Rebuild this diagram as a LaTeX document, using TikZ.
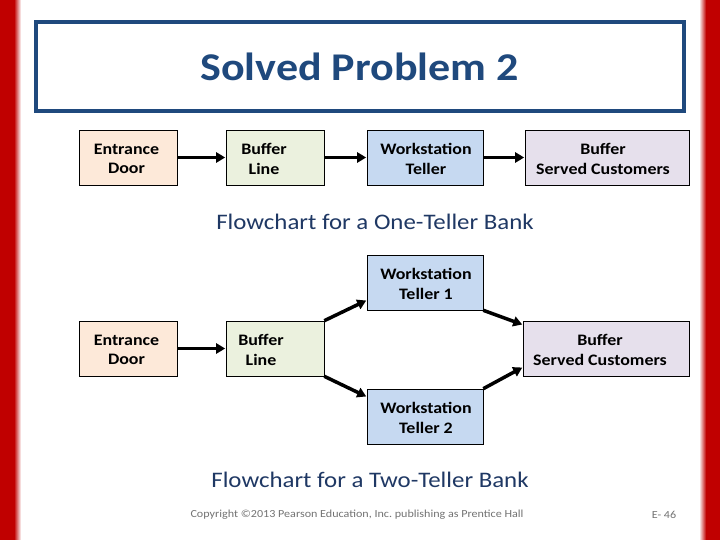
\documentclass[tikz,border=0pt]{standalone}
\usepackage{fontspec}
\setmainfont{Carlito}[FakeStretch=1.12]
\usetikzlibrary{arrows.meta}
\definecolor{slred}{HTML}{C00000}
\definecolor{slblue}{HTML}{1F497D}
\definecolor{capblue}{HTML}{1F3864}
\definecolor{cpeach}{HTML}{FDE9D9}
\definecolor{cgreen}{HTML}{EBF1DE}
\definecolor{cblue}{HTML}{C6D9F1}
\definecolor{clav}{HTML}{E6E0EC}
\tikzset{
  box/.style={draw=black, line width=0.6pt, rectangle, inner sep=0pt, minimum height=55pt},
  lbl/.style={font=\bfseries\fontsize{16}{19.5}\selectfont, align=center, inner sep=0pt},
  arr/.style={line width=3.5pt, -{Triangle[length=9pt,width=10pt]}, shorten >=0.5pt},
  captxt/.style={text=capblue, font=\fontsize{22.2}{26}\selectfont, inner sep=0pt}
}
\begin{document}
\begin{tikzpicture}[x=1pt,y=-1pt]
\useasboundingbox (0,0) rectangle (720,540);
\fill[white] (0,0) rectangle (720,540);
% red side bars
\fill[slred] (0,0) rectangle (14,540);
\shade[left color=slred, right color=white] (14,0) rectangle (21,540);
\fill[slred] (706,0) rectangle (720,540);
\shade[left color=white, right color=slred] (699,0) rectangle (706,540);
% title box
\node[draw=slblue, line width=4pt, minimum width=648pt, minimum height=89pt, inner sep=0pt] (tbox) at (360,66.5) {};
\node[text=slblue, font=\bfseries\fontsize{39.3}{42}\selectfont, inner sep=0pt] (title) at (359.5,67) {Solved Problem 2};

% top row
\node[box, fill=cpeach, minimum width=98pt] (ed1) at (128,157.5) {};
\node[lbl] (ed1t) at (126.5,159) {Entrance\\Door};
\node[box, fill=cgreen, minimum width=98pt] (bl1) at (275,157.5) {};
\node[lbl] (bl1t) at (264,159) {Buffer\\Line};
\node[box, fill=cblue, minimum width=116pt] (ws1) at (425,157.5) {};
\node[lbl] (ws1t) at (426,159) {Workstation\\Teller};
\node[box, fill=clav, minimum width=164pt] (sc1) at (607,157.5) {};
\node[lbl] (sc1t) at (603,159) {Buffer\\Served Customers};
\draw[arr] (ed1.east) -- (bl1.west);
\draw[arr] (bl1.east) -- (ws1.west);
\draw[arr] (ws1.east) -- (sc1.west);
\node[captxt] (cap1) at (375,222) {Flowchart for a One-Teller Bank};

% bottom
\node[box, fill=cblue, minimum width=116pt] (t1) at (425,282.5) {};
\node[lbl] (t1t) at (426,284) {Workstation\\Teller 1};
\node[box, fill=cpeach, minimum width=98pt] (ed2) at (128,348.5) {};
\node[lbl] (ed2t) at (126.5,350) {Entrance\\Door};
\node[box, fill=cgreen, minimum width=98pt] (bl2) at (275,348.5) {};
\node[lbl] (bl2t) at (261,350) {Buffer\\Line};
\node[box, fill=clav, minimum width=166pt] (sc2) at (606,348.5) {};
\node[lbl] (sc2t) at (600,350) {Buffer\\Served Customers};
\node[box, fill=cblue, minimum width=116pt] (t2) at (425,416.5) {};
\node[lbl] (t2t) at (426,418) {Workstation\\Teller 2};

\draw[arr] (ed2.east) -- (bl2.west);
\draw[arr] (bl2.north east) -- ([yshift=10pt]t1.south west);
\draw[arr] (bl2.south east) -- ([yshift=-8pt]t2.north west);
\draw[arr] (t1.south east) -- ([yshift=-4pt]sc2.north west);
\draw[arr] (t2.north east) -- ([yshift=9pt]sc2.south west);
\node[captxt] (cap2) at (370,480) {Flowchart for a Two-Teller Bank};

% footer
\node[text=black!55, font=\fontsize{10.8}{13}\selectfont, inner sep=0pt] (copy) at (357,515) {Copyright ©2013 Pearson Education, Inc.\ publishing as Prentice Hall};
\node[text=black!55, font=\fontsize{10.8}{13}\selectfont, inner sep=0pt] (pg) at (664,515) {E- 46};
\end{tikzpicture}
\end{document}
